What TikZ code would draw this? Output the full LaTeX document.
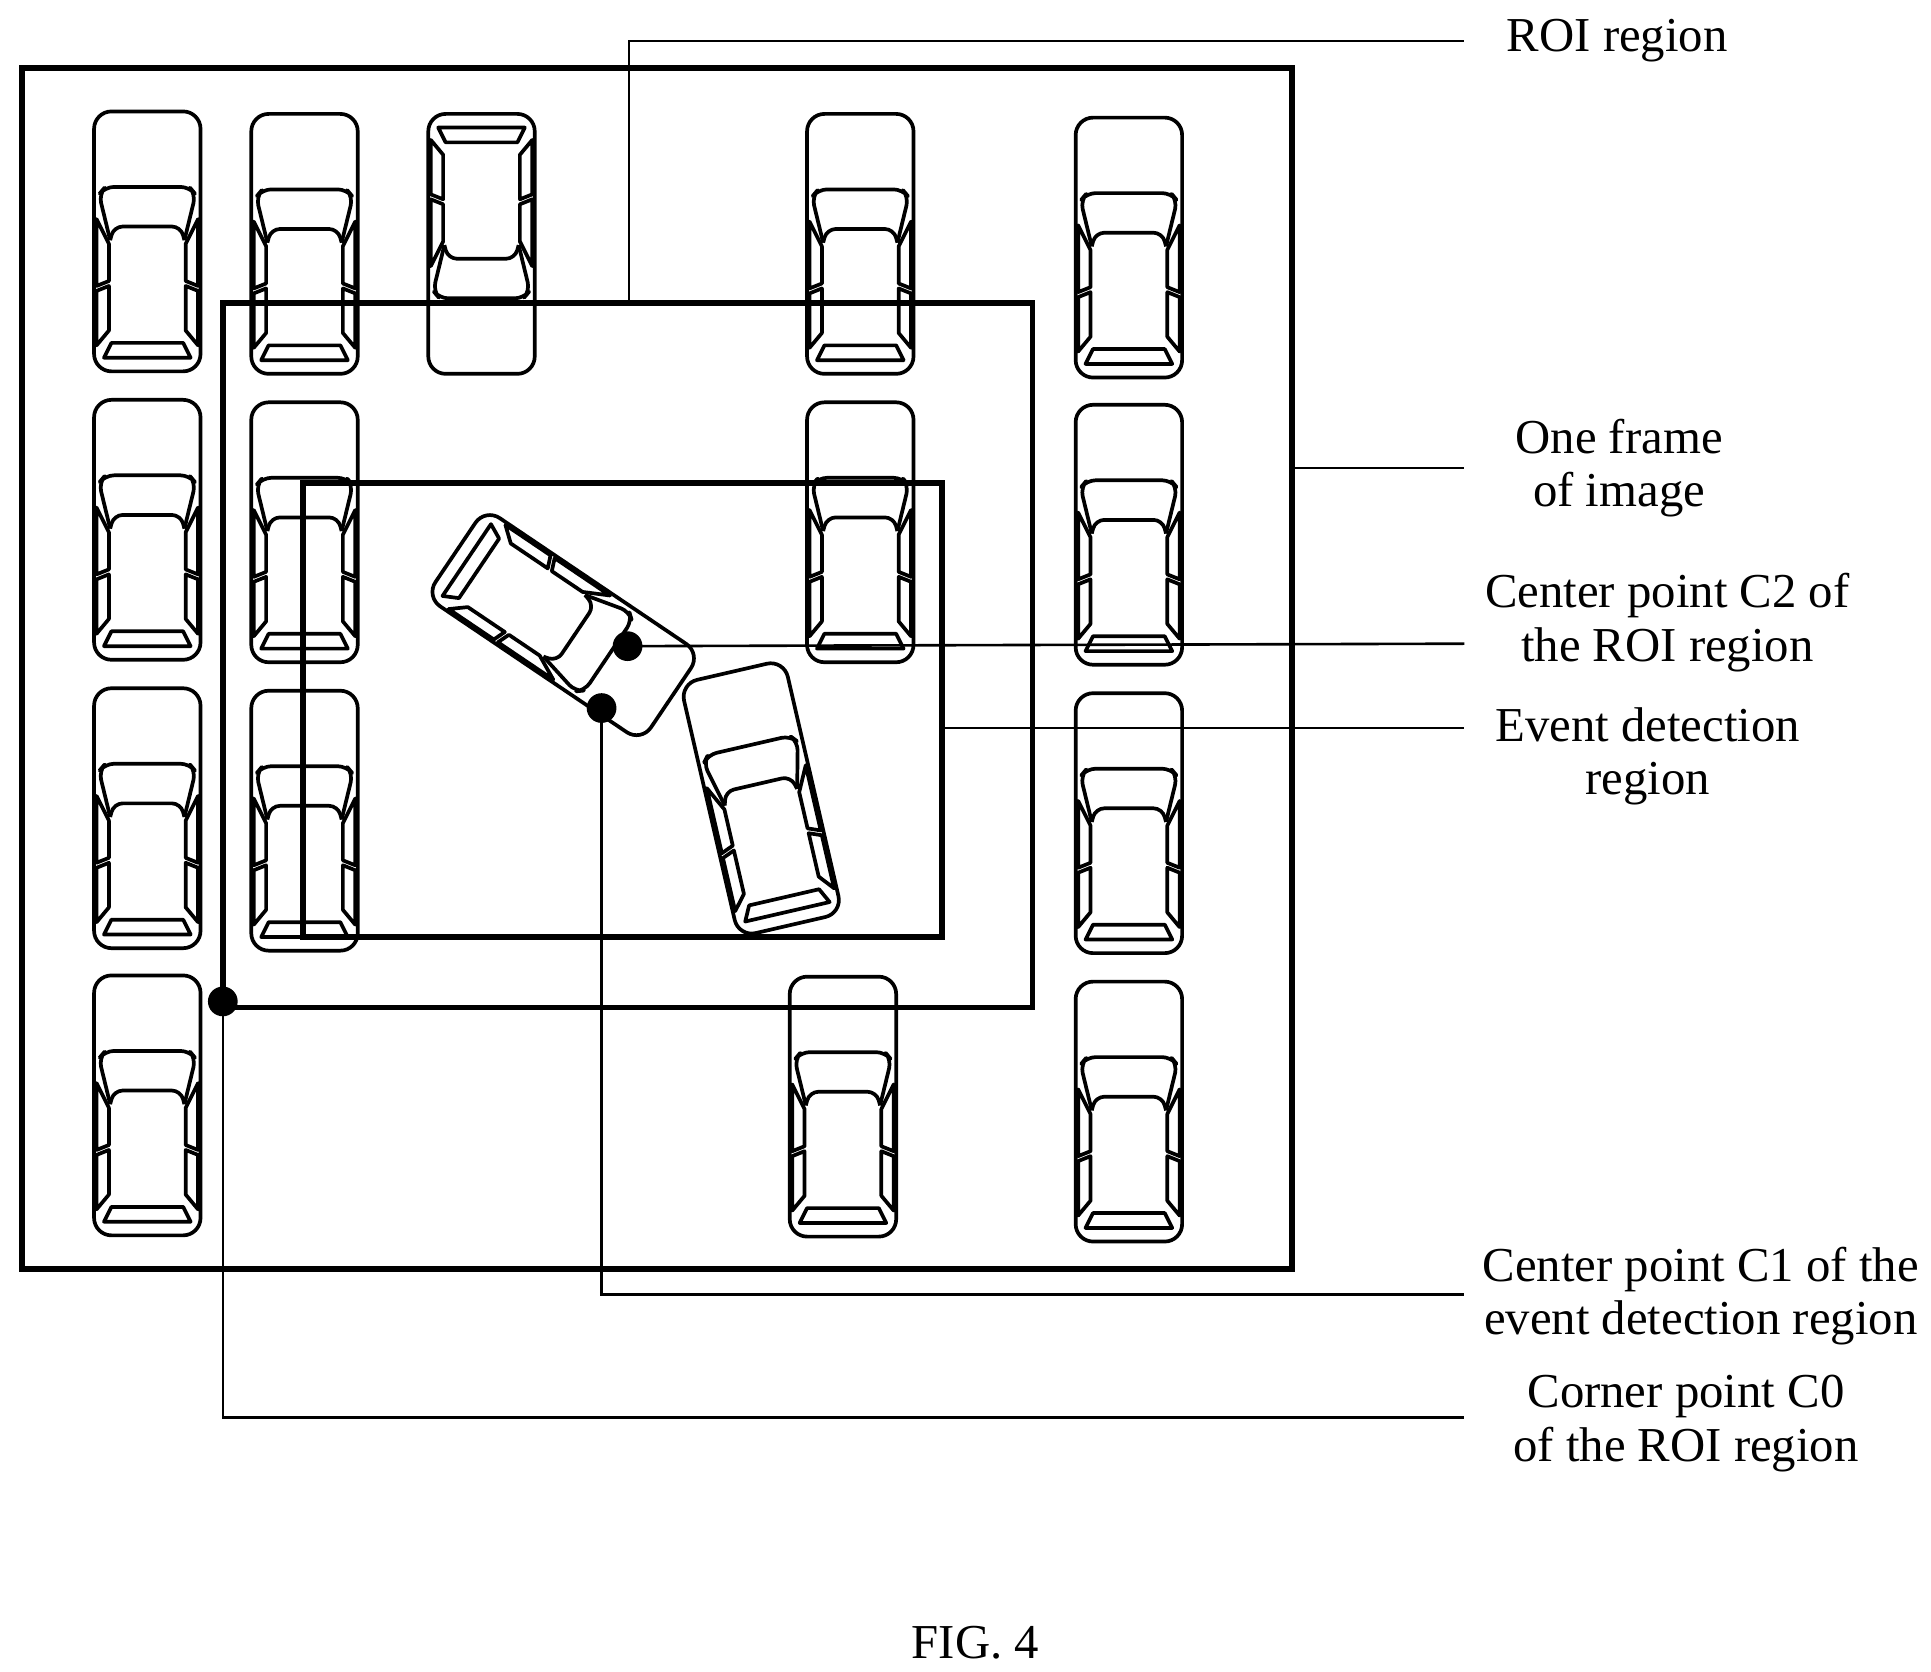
\documentclass[tikz,border=0pt]{standalone}
\usepackage{fontspec}
\setmainfont{Liberation Serif}
\begin{document}
\begin{tikzpicture}[x=0.01cm,y=-0.01cm,
  frame/.style={line width=1.3pt},
  lead/.style={line width=0.6pt},
  dot/.style={circle,fill=black,inner sep=0pt,minimum size=0.24cm},
  lab/.style={align=center,font=\fontsize{11.2}{12.2}\selectfont},
  car/.pic={
    \begin{scope}[line width=0.85pt,line join=round]
    \draw[rounded corners=4pt] (-43,-105) rectangle (43,105);
    \draw[rounded corners=2pt] (-30,-1) -- (-39,-38) -- (-34,-44) -- (34,-44) -- (39,-38) -- (30,-1);
    \draw[rounded corners=2pt] (-30,-1) -- (-27,-12) -- (27,-12) -- (30,-1);
    \draw (-41,-18) -- (-31,2) -- (-31,32) -- (-41,36) -- cycle;
    \draw (-41,40) -- (-31,36) -- (-31,72) -- (-41,84) -- cycle;
    \draw (41,-18) -- (31,2) -- (31,32) -- (41,36) -- cycle;
    \draw (41,40) -- (31,36) -- (31,72) -- (41,84) -- cycle;
    \draw (-29,82) -- (29,82) -- (35,94) -- (-35,94) -- cycle;
    \end{scope}}]
\useasboundingbox (0,0) rectangle (1560,1350);
% cars
\foreach \y in {195,428,661,893} \pic at (119,\y) {car};
\foreach \y in {197,430,663} \pic at (246,\y) {car};
\pic[rotate=180] at (389,197) {car};
\pic at (695,197) {car};
\pic at (695,430) {car};
\pic at (681,894) {car};
\foreach \y in {200,432,665,898} \pic at (912,\y) {car};
\pic[rotate=-124] at (455,505) {car};
\pic[rotate=13] at (615,645) {car};
% frames
\draw[frame] (18,55) rectangle (1044,1025);
\draw[frame] (180,245) rectangle (834,814);
\draw[frame] (245,390) rectangle (761,757);
% points
\node[dot] (c2) at (507,522) {};
\node[dot] (c1) at (486,572) {};
\node[dot] (c0) at (180,809) {};
\coordinate (roi) at (508,245);
\coordinate (frm) at (1044,378);
\coordinate (evt) at (761,588);
% labels
\node[lab,anchor=west] (lroi) at (1205,33) {ROI region};
\node[lab] (lfrm) at (1308,378) {One frame\\of image};
\node[lab] (lc2) at (1347,503) {Center point C2 of\\the ROI region};
\node[lab] (levt) at (1331,611) {Event detection\\region};
\node[lab] (lc1) at (1374,1047) {Center point C1 of the\\event detection region};
\node[lab] (lc0) at (1362,1150) {Corner point C0\\of the ROI region};
\node[lab] (fig) at (788,1327) {FIG. 4};
% leaders
\draw[lead] (roi) |- (1183,33);
\draw[lead] (frm) -- (1183,378);
\draw[lead] (c2.center) -- (1183,520);
\draw[lead] (evt) -- (1183,588);
\draw[lead] (c1.center) |- (1183,1046);
\draw[lead] (c0.center) |- (1183,1145);
\end{tikzpicture}
\end{document}
